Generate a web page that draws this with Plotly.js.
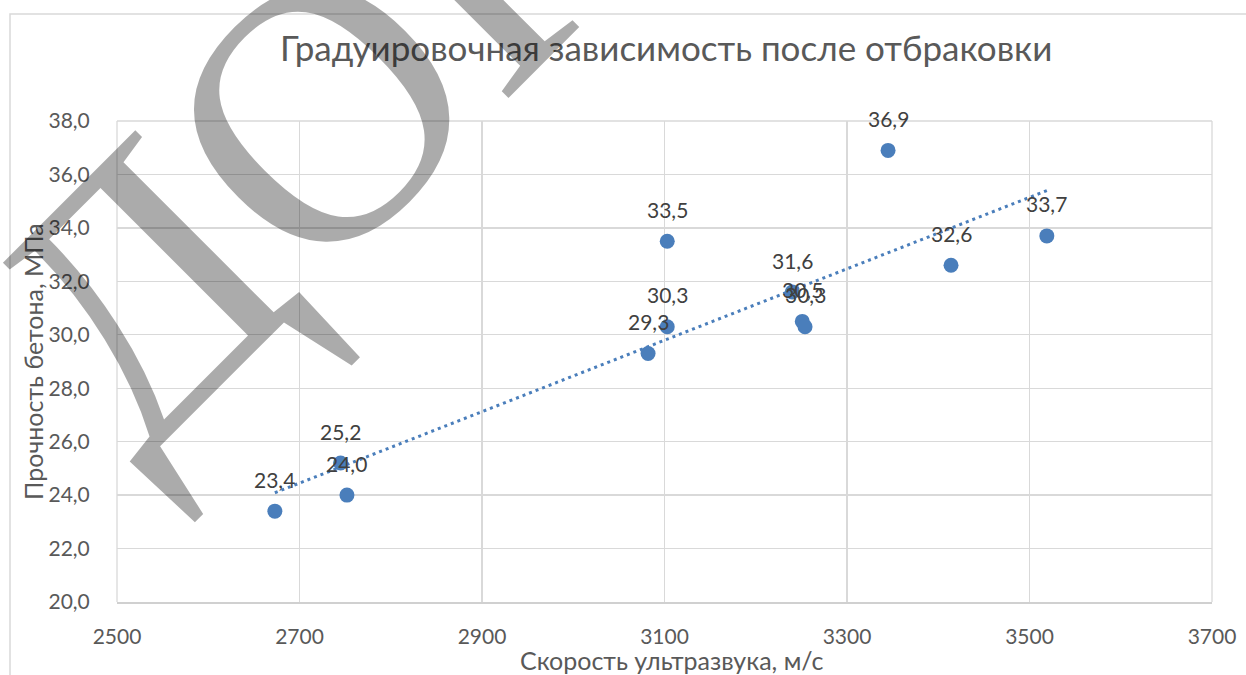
<!DOCTYPE html>
<html>
<head>
<meta charset="utf-8">
<script src="https://cdn.plot.ly/plotly-3.0.1.min.js"></script>
<style>
html,body{margin:0;padding:0;background:#fff;}
#chart{width:1246px;height:675px;}
</style>
</head>
<body>
<div id="chart"></div>
<script>
// ---- data ----
const speeds = [2673, 2745, 2752, 3082, 3103, 3103, 3240, 3251, 3254, 3345, 3414, 3519];
const strengths = [23.4, 25.2, 24.0, 29.3, 30.3, 33.5, 31.6, 30.5, 30.3, 36.9, 32.6, 33.7];
const xTicks = [2500, 2700, 2900, 3100, 3300, 3500, 3700];
const yTicks = [20, 22, 24, 26, 28, 30, 32, 34, 36, 38];
const chartTitle = 'Градуировочная зависимость после отбраковки';
const xTitle = 'Скорость ультразвука, м/с';
const yTitle = 'Прочность бетона, МПа';
const watermark = 'ДОК';

// ---- layout geometry ----
const W = 1246, H = 675;
const L = 117, R = 1212, T = 121, B = 602;
const px = x => (x - L) / (R - L);
const py = y => (B - y) / (B - T);

// linear trendline (least squares)
const n = speeds.length;
const mx = speeds.reduce((a, b) => a + b, 0) / n;
const my = strengths.reduce((a, b) => a + b, 0) / n;
let sxy = 0, sxx = 0;
for (let i = 0; i < n; i++) { sxy += (speeds[i] - mx) * (strengths[i] - my); sxx += (speeds[i] - mx) ** 2; }
const slope = sxy / sxx, icpt = my - slope * mx;
const tx = [Math.min(...speeds), Math.max(...speeds)];
const ty = tx.map(x => icpt + slope * x);

const fmt = v => v.toFixed(1).replace('.', ',');
const FONT = 'Lato, Roboto, sans-serif';
const TXT = '#595959';
const BLUE = '#4a7ebb';

const traces = [
  {
    x: tx, y: ty, mode: 'lines', type: 'scatter',
    line: {color: BLUE, width: 3, dash: '3px,4px'},
    hoverinfo: 'skip', showlegend: false
  },
  {
    x: speeds, y: strengths, mode: 'markers', type: 'scatter',
    marker: {color: BLUE, size: 15},
    showlegend: false
  }
];

const annotations = speeds.map((x, i) => ({
  x: x, y: strengths[i], xref: 'x', yref: 'y',
  text: fmt(strengths[i]), showarrow: false, yshift: 32,
  font: {family: FONT, size: 21, color: '#404040'}
}));

annotations.push(
  {xref: 'paper', yref: 'paper', x: px(666), y: py(47), text: chartTitle, showarrow: false,
   xanchor: 'center', yanchor: 'middle', font: {family: FONT, size: 35, color: TXT}},
  {xref: 'paper', yref: 'paper', x: px(671), y: py(660), text: xTitle, showarrow: false,
   xanchor: 'center', yanchor: 'middle', font: {family: FONT, size: 25, color: TXT}},
  {xref: 'paper', yref: 'paper', x: px(33), y: py(362), text: yTitle, showarrow: false,
   textangle: -90, xanchor: 'center', yanchor: 'middle', font: {family: FONT, size: 25, color: TXT}},
  {xref: 'paper', yref: 'paper', x: px(318), y: py(113), text: watermark, showarrow: false,
   textangle: -45, xanchor: 'center', yanchor: 'middle',
   font: {family: '"Liberation Serif", "DejaVu Serif", serif', size: 368, color: 'rgba(0,0,0,0.33)'}}
);

const layout = {
  width: W, height: H,
  margin: {l: L, r: W - R, t: T, b: H - B, pad: 0},
  paper_bgcolor: '#fff', plot_bgcolor: '#fff',
  separators: ', ',
  showlegend: false,
  font: {family: FONT, color: TXT, size: 21},
  xaxis: {
    range: [2500, 3700], tickvals: xTicks, ticktext: xTicks.map(String),
    showgrid: true, gridcolor: '#d9d9d9', gridwidth: 1.3,
    zeroline: false, showline: true, linecolor: '#d0d0d0', linewidth: 1.5, mirror: false,
    ticks: 'outside', ticklen: 15, tickcolor: 'rgba(0,0,0,0)',
    tickfont: {family: FONT, size: 21, color: TXT}, fixedrange: true
  },
  yaxis: {
    range: [20, 38], tickvals: yTicks, ticktext: yTicks.map(fmt),
    showgrid: true, gridcolor: '#d9d9d9', gridwidth: 1.3,
    zeroline: false, showline: false,
    ticks: 'outside', ticklen: 22, tickcolor: 'rgba(0,0,0,0)',
    tickfont: {family: FONT, size: 21, color: TXT}, fixedrange: true
  },
  shapes: [
    {type: 'rect', xref: 'paper', yref: 'paper', x0: px(10), x1: px(1260), y0: py(14), y1: py(700),
     line: {color: '#d9d9d9', width: 1.5}, fillcolor: 'rgba(0,0,0,0)', layer: 'below'},
    {type: 'line', xref: 'paper', yref: 'paper', x0: 0, x1: 0, y0: 0, y1: 1,
     line: {color: '#d9d9d9', width: 1.3}, layer: 'below'},
    {type: 'line', xref: 'paper', yref: 'paper', x0: 1, x1: 1, y0: 0, y1: 1,
     line: {color: '#d9d9d9', width: 1.3}, layer: 'below'},
    {type: 'line', xref: 'paper', yref: 'paper', x0: 0, x1: 1, y0: 1, y1: 1,
     line: {color: '#d9d9d9', width: 1.3}, layer: 'below'}
  ],
  annotations: annotations
};

Plotly.newPlot('chart', traces, layout, {displayModeBar: false, staticPlot: true});
</script>
</body>
</html>
